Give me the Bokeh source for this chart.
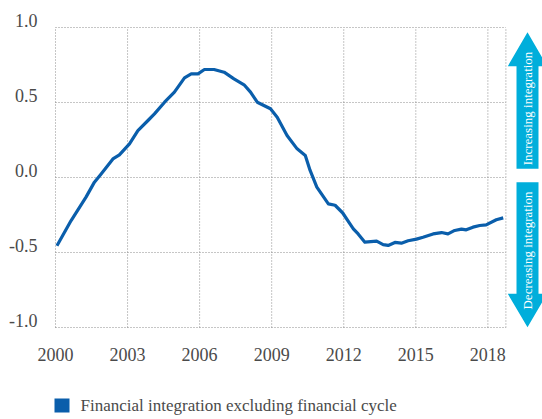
from bokeh.plotting import figure
from bokeh.layouts import column
from bokeh.models import FixedTicker, Label, ColumnDataSource, Range1d, LinearAxis
from bokeh.core.properties import value
from bokeh.embed import file_html
from bokeh.resources import INLINE

# ---- data ----
years = [2000.06, 2000.65, 2001.27, 2001.62, 2001.90, 2002.39, 2002.66, 2003.08, 2003.43,
         2003.85, 2004.12, 2004.54, 2004.95, 2005.37, 2005.65, 2005.93, 2006.20, 2006.60,
         2007.02, 2007.43, 2007.85, 2008.12, 2008.40, 2008.95, 2009.23, 2009.64, 2010.06,
         2010.40, 2010.60, 2010.88, 2011.36, 2011.64, 2011.95, 2012.26, 2012.40, 2012.60,
         2012.88, 2013.37, 2013.64, 2013.85, 2014.13, 2014.40, 2014.68, 2015.03, 2015.30,
         2015.72, 2016.07, 2016.34, 2016.62, 2016.90, 2017.10, 2017.38, 2017.66, 2017.93,
         2018.35, 2018.64]
values = [-0.455, -0.287, -0.131, -0.031, 0.024, 0.124, 0.151, 0.224, 0.313,
          0.380, 0.424, 0.502, 0.569, 0.664, 0.691, 0.691, 0.720, 0.720,
          0.702, 0.658, 0.618, 0.569, 0.502, 0.458, 0.402, 0.280, 0.191,
          0.147, 0.047, -0.064, -0.176, -0.185, -0.235, -0.309, -0.342, -0.376,
          -0.431, -0.424, -0.447, -0.453, -0.433, -0.438, -0.422, -0.411, -0.398,
          -0.376, -0.367, -0.376, -0.353, -0.344, -0.349, -0.331, -0.320, -0.316,
          -0.282, -0.269]
x_ticks = [2000, 2003, 2006, 2009, 2012, 2015, 2018]
x_tick_labels = ["2000", "2003", "2006", "2009", "2012", "2015", "2018"]
y_ticks = [-1.0, -0.5, 0.0, 0.5, 1.0]
y_tick_labels = ["-1.0", "-0.5", "0.0", "0.5", "1.0"]
series_name = "Financial integration excluding financial cycle"
arrow_labels = ["Increasing integration", "Decreasing integration"]

# ---- style / geometry (page has no margin: figure px == page px) ----
FONT = "Liberation Sans Narrow"
LINE = "#0A5EAB"
CYAN = "#00AEDB"
GRID = "#8c8c8c"
TXT = "#4a4a4a"
W = 542
H1, H2 = 372, 47

PXY = 24.02          # px per year
PXV = 150.0          # px per unit of value
X0, XR = 2000, 2018.75   # plotted area (dotted box) in x
FL, FT, FB = 52, 12, 330  # frame left / top / bottom, px
xs_left = X0 - (55 - FL) / PXY
x_end = xs_left + (W - FL) / PXY
y_hi = (177 - FT) / PXV
y_lo = (177 - FB) / PXV
LAB_SHIFT = 7.5 / PXV     # tick labels sit just above their gridline

p = figure(width=W, height=H1, output_backend="svg", toolbar_location=None,
           x_range=Range1d(xs_left, x_end), y_range=Range1d(y_lo, y_hi),
           y_axis_location=None,
           min_border_left=FL, min_border_right=0, min_border_top=FT,
           min_border_bottom=H1 - FB)
p.background_fill_color = None
p.border_fill_color = "white"
p.outline_line_color = None
p.grid.visible = False

p.extra_y_ranges = {"lab": Range1d(y_lo - LAB_SHIFT, y_hi - LAB_SHIFT)}
yax = LinearAxis(y_range_name="lab")
p.add_layout(yax, "left")

p.xaxis.ticker = FixedTicker(ticks=x_ticks)
yax.ticker = FixedTicker(ticks=y_ticks)
p.xaxis.major_label_overrides = {t: s for t, s in zip(x_ticks, x_tick_labels)}
yax.major_label_overrides = {t: s for t, s in zip(y_ticks, y_tick_labels)}
for ax in (p.xaxis[0], yax):
    ax.axis_line_color = None
    ax.major_tick_line_color = None
    ax.major_tick_out = 0
    ax.major_tick_in = 0
    ax.minor_tick_line_color = None
    ax.minor_tick_out = 0
    ax.minor_tick_in = 0
    ax.major_label_text_font = FONT
    ax.major_label_text_font_size = "18px"
    ax.major_label_text_color = TXT
p.xaxis.major_label_standoff = 17
yax.major_label_standoff = 15

# dotted gridlines limited to the plotted box (the box edges are gridlines too)
grid_kw = dict(line_color=GRID, line_dash="1 2", line_width=1)
p.segment(x0=[X0] * len(y_ticks), x1=[XR] * len(y_ticks), y0=y_ticks, y1=y_ticks, **grid_kw)
p.segment(x0=x_ticks + [XR], x1=x_ticks + [XR],
          y0=[y_ticks[0]] * (len(x_ticks) + 1), y1=[y_ticks[-1]] * (len(x_ticks) + 1), **grid_kw)

src = ColumnDataSource(data=dict(x=years, y=values))
p.line("x", "y", source=src, line_color=LINE, line_width=3.2, line_join="round")

# ---- arrows on the right ----
xs_px = lambda px: X0 + (px - 55) / PXY      # page px -> data x
ys_px = lambda py: (177 - py) / PXV          # page px -> data y
hl, sl, sr, cx = xs_px(507.3), xs_px(516), xs_px(538), xs_px(527)
hr = 2 * cx - hl
p.patch(x=[cx, hr, sr, sr, sl, sl, hl],
        y=[ys_px(31.7), ys_px(65.7), ys_px(65.7), ys_px(168.3), ys_px(168.3), ys_px(65.7), ys_px(65.7)],
        fill_color=CYAN, line_color=None)
p.patch(x=[sl, sr, sr, hr, cx, hl, sl],
        y=[ys_px(181.7), ys_px(181.7), ys_px(293.3), ys_px(293.3), ys_px(326.7), ys_px(293.3), ys_px(293.3)],
        fill_color=CYAN, line_color=None)
for lbl, yc in zip(arrow_labels, [ys_px(108), ys_px(250)]):
    p.add_layout(Label(x=cx, y=yc, text=lbl, angle=1.5708, text_align="center",
                       text_baseline="middle", text_color="white", text_font=FONT,
                       text_font_size="13px"))

# ---- legend strip under the chart (x in page pixels; frame aligned with the chart's) ----
p2 = figure(width=W, height=H2, output_backend="svg", toolbar_location=None,
            x_range=Range1d(FL, W), y_range=Range1d(0, H2),
            x_axis_location=None, y_axis_location=None, min_border=0,
            min_border_left=FL)
p2.outline_line_color = None
p2.background_fill_color = None
p2.border_fill_color = "white"
p2.grid.visible = False
p2.quad(left=[54], right=[69], bottom=[7], top=[21], fill_color=LINE, line_color=None)
p2.text(x=[80], y=[14], text=[series_name], text_font=value(FONT),
        text_font_size="17px", text_color=TXT, text_baseline="middle", text_align="left")

open("out.html", "w").write(file_html(column(p, p2, spacing=0), INLINE))
